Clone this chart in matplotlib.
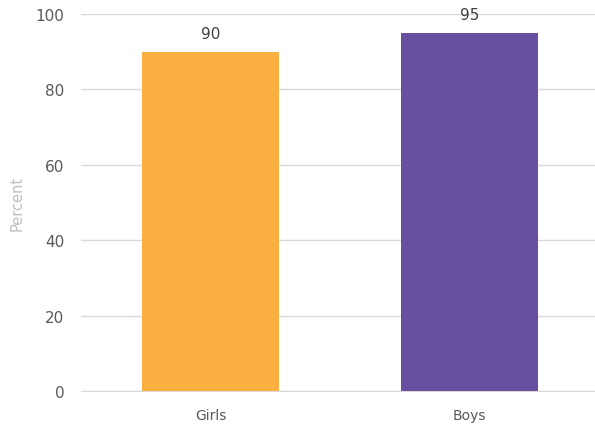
import matplotlib.pyplot as plt

groups = ["Girls", "Boys"]
percent = [90, 95]
bar_colors = ["#FBAF41", "#6750A0"]
yticks = [0, 20, 40, 60, 80, 100]

plt.rcParams['font.family'] = ['DejaVu Sans']

fig = plt.figure(figsize=(5.95, 4.27), dpi=100)
ax = fig.add_axes([0.136, 0.082, 0.871, 0.883])

x = range(len(groups))
bars = ax.bar(x, percent, width=0.53, color=bar_colors, zorder=3)
for b, v in zip(bars, percent):
    ax.annotate(f"{v}", (b.get_x() + b.get_width() / 2, v),
                xytext=(0, 13), textcoords="offset points",
                ha="center", va="center", fontsize=11, color="#404040")

ax.set_xlim(-0.5, 1.5)
ax.set_ylim(0, 100)
ax.set_yticks(yticks)
ax.set_xticks(list(x))
ax.set_xticklabels(groups)
ax.grid(axis="y", color="#D9D9D9", linewidth=1, zorder=0)
for side in ["top", "right", "left"]:
    ax.spines[side].set_visible(False)
ax.spines["bottom"].set_color("#D9D9D9")
ax.tick_params(axis="both", length=0, colors="#595959", labelsize=11)
ax.tick_params(axis="x", pad=12, labelsize=10)
ax.tick_params(axis="y", pad=12)
ax.set_ylabel("Percent", color="#BFBFBF", fontsize=10.5, labelpad=8)

fig.savefig("out.png", dpi=100)
